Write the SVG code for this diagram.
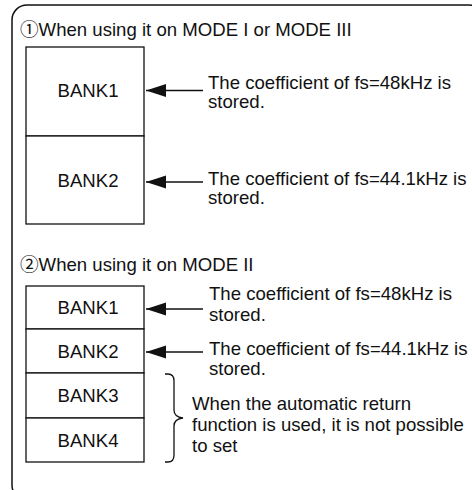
<svg xmlns="http://www.w3.org/2000/svg" width="472" height="490" viewBox="0 0 472 490">
<style>
  text { font-family: "Liberation Sans", "Noto Sans CJK JP", Arial, sans-serif; font-size: 18.6px; fill: #111; }
  .box { fill: #fff; stroke: #111; stroke-width: 1.3; }
  .c { text-anchor: middle; }
  .conn { stroke: #111; stroke-width: 1.3; fill: none; }
</style>
<defs>
  <marker id="ah" markerUnits="userSpaceOnUse" markerWidth="20" markerHeight="14" refX="20" refY="7" orient="auto" viewBox="0 0 20 14">
    <path d="M20,7 L0,0.5 L0,13.5 Z" fill="#111"/>
  </marker>
</defs>
<rect x="12" y="5" width="472" height="495" rx="15" ry="15" fill="#fff" stroke="#111" stroke-width="1.5"/>
<text x="20" y="36">①When using it on MODE I or MODE III</text>
<g id="m1-bank1"><rect class="box" x="26" y="47" width="118" height="89"/><text class="c" x="88" y="97">BANK1</text></g>
<g id="m1-bank2"><rect class="box" x="26" y="136" width="118" height="88"/><text class="c" x="88" y="187">BANK2</text></g>
<g id="m1-note1"><text x="208" y="89">The coefficient of fs=48kHz is</text><text x="208" y="108">stored.</text></g>
<g id="m1-note2"><text x="208" y="185">The coefficient of fs=44.1kHz is</text><text x="208" y="204">stored.</text></g>
<text x="20" y="271">②When using it on MODE II</text>
<g id="m2-bank1"><rect class="box" x="26" y="286" width="118" height="43"/><text class="c" x="88" y="314">BANK1</text></g>
<g id="m2-bank2"><rect class="box" x="26" y="329" width="118" height="44"/><text class="c" x="88" y="358">BANK2</text></g>
<g id="m2-bank3"><rect class="box" x="26" y="373" width="118" height="45"/><text class="c" x="88" y="402">BANK3</text></g>
<g id="m2-bank4"><rect class="box" x="26" y="418" width="118" height="44"/><text class="c" x="88" y="447">BANK4</text></g>
<g id="m2-note1"><text x="209" y="300">The coefficient of fs=48kHz is</text><text x="209" y="321">stored.</text></g>
<g id="m2-note2"><text x="209" y="355">The coefficient of fs=44.1kHz is</text><text x="209" y="375">stored.</text></g>
<g id="m2-note3"><text x="192" y="410">When the automatic return</text><text x="192" y="431">function is used, it is not possible</text><text x="192" y="452">to set</text></g>
<g id="connectors">
  <path class="conn" d="M203,90.5 H146" marker-end="url(#ah)"/>
  <path class="conn" d="M203,182 H146" marker-end="url(#ah)"/>
  <path class="conn" d="M203,309 H146" marker-end="url(#ah)"/>
  <path class="conn" d="M203,352 H146" marker-end="url(#ah)"/>
  <path class="conn" d="M165,374 H168 Q174,374 174,381 V410 Q174,417 183,418 Q174,419 174,426 V455 Q174,462 168,462 H165"/>
</g>
</svg>
